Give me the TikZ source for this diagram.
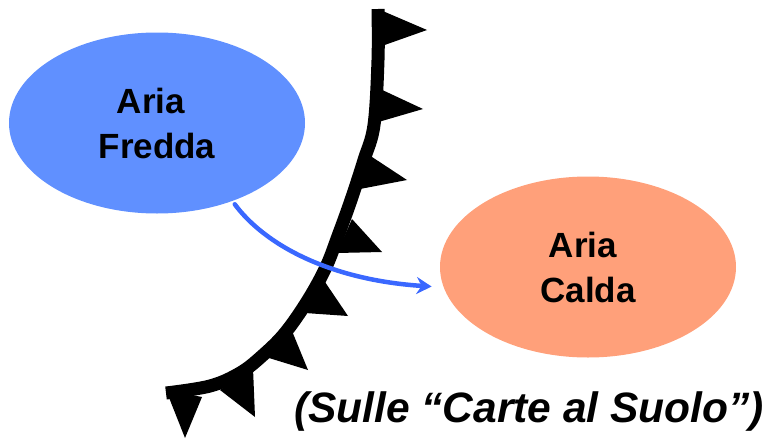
\documentclass[tikz,border=0pt]{standalone}
\usepackage{fontspec}
\setmainfont{Liberation Sans}
\usetikzlibrary{arrows.meta,shapes.geometric}

\definecolor{coldair}{RGB}{96,144,255}
\definecolor{warmair}{RGB}{255,160,122}
\definecolor{flowblue}{RGB}{58,104,255}

\begin{document}
\begin{tikzpicture}[x=1pt,y=-1pt,
  airmass/.style={ellipse, inner sep=0pt, minimum width=296pt, minimum height=181pt,
    align=center, font=\fontsize{35}{45}\selectfont\bfseries},
  frontline/.style={line width=13pt, black},
  pip/.style={fill=black},
  flowarrow/.style={draw=flowblue, line width=4.5pt, line cap=round,
    -{Stealth[length=15pt,width=17pt,inset=5pt]}},
  caption/.style={font=\fontsize{42.5}{50}\selectfont\bfseries\itshape, inner sep=0pt, anchor=base}]
\useasboundingbox (0,0) rectangle (771,439);

% air masses
\node[airmass, fill=coldair] (cold) at (157,123) {Aria\hspace*{12pt}\\Fredda};
\node[airmass, fill=warmair] (warm) at (588,267) {Aria\hspace*{10pt}\\Calda};

% cold front: thick line with triangles on the warm side
\draw[frontline] plot[smooth, tension=0.6] coordinates {
  (378,9) (378,60) (374,125) (364,160) (351,200) (338,236) (326,267)
  (308,300) (285,333) (262,356) (240,373) (210,386) (166,393)};
\fill[pip] (378,9)  -- (379,47)  -- (427,30)  -- cycle;
\fill[pip] (378,88) -- (375,123) -- (423,109) -- cycle;
\fill[pip] (369,155) -- (360,189) -- (407,180) -- cycle;
\fill[pip] (352,219) -- (337,253) -- (382,252) -- cycle;
\fill[pip] (325,282) -- (305,313) -- (348,316) -- cycle;
\fill[pip] (292,331) -- (269,358) -- (308,370) -- cycle;
\fill[pip] (253,368) -- (220,390) -- (255,417) -- cycle;
\fill[pip] (202,397) -- (166,390) -- (185,438) -- cycle;

% movement of the cold air
\draw[flowarrow, shorten <=4pt, shorten >=12pt]
  (cold.-46) .. controls (265,245) and (330,280) .. (warm.188);

% caption
\node[caption] (note) at (529,422) {(Sulle “Carte al Suolo”)};
\end{tikzpicture}
\end{document}
